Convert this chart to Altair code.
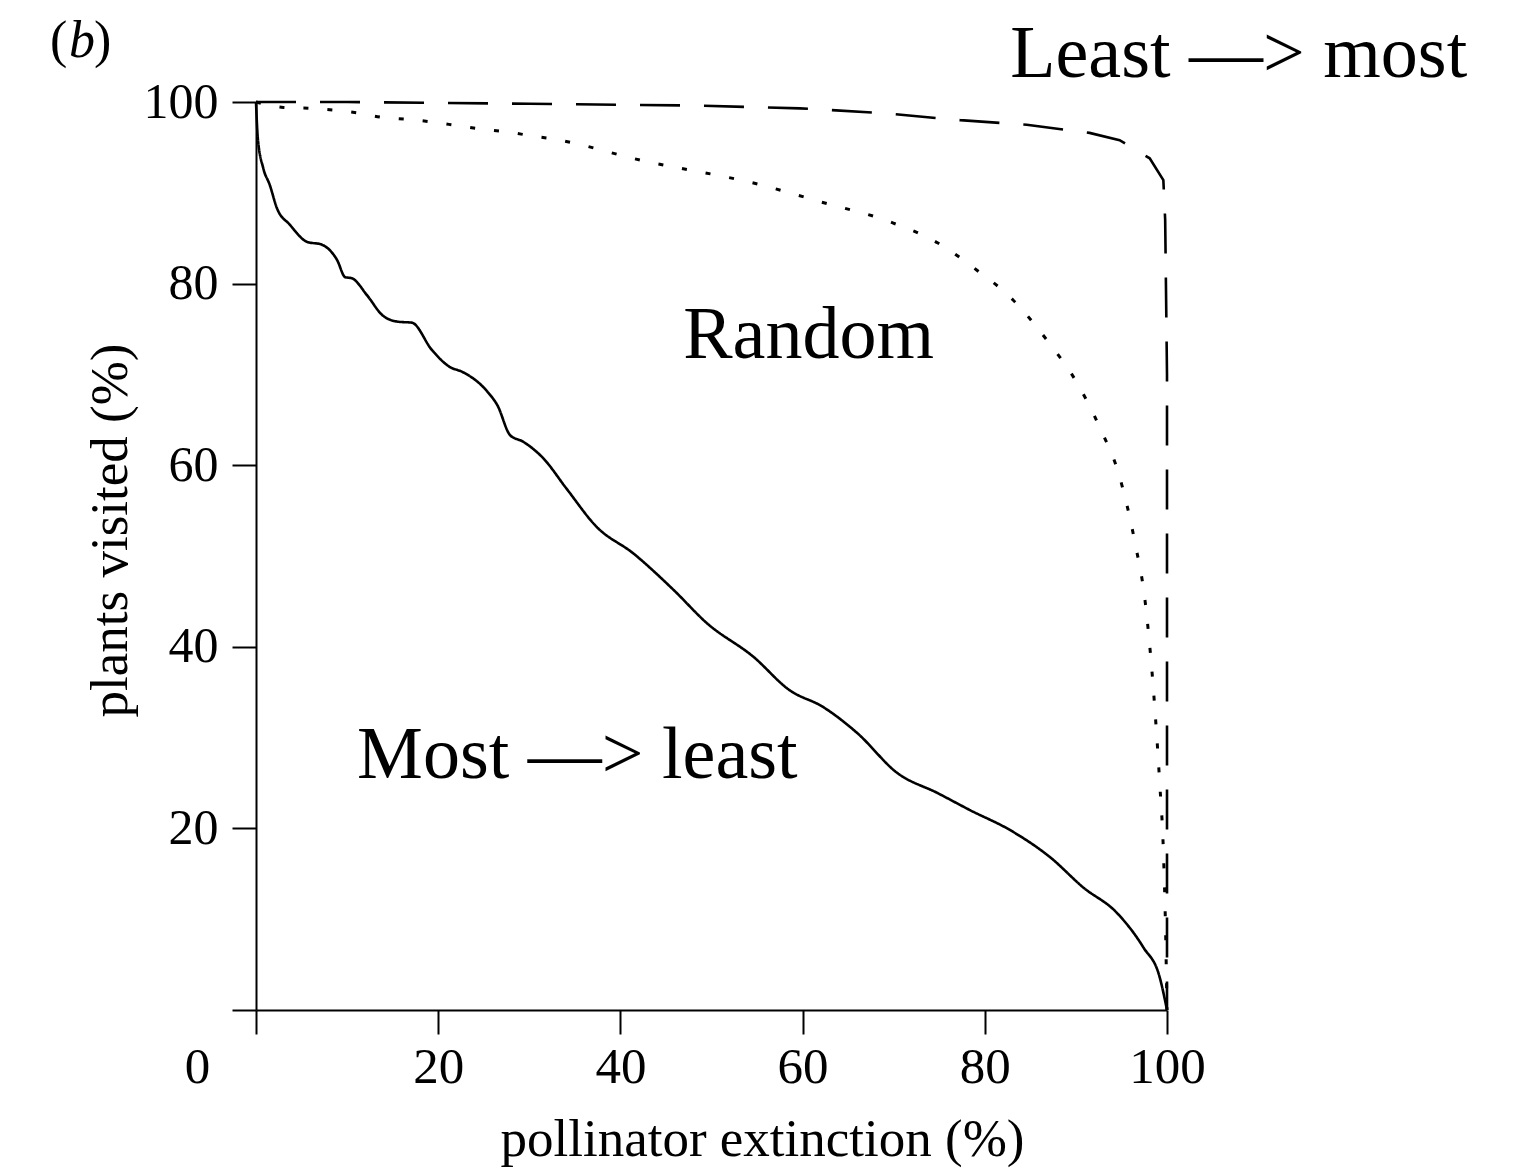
import altair as alt
import pandas as pd

# Most -> least (solid)
solid_x = [0, 0.2, 0.8, 1.5, 2.3, 3.7, 5.6, 7.2, 8.9, 9.8, 10.5, 12.2, 13.9, 15.6, 17.1,
           19.3, 21.3, 22.6, 25.4, 26.5, 27.9, 29.3, 31.5, 34.1, 37.4, 41.4, 45.8, 49.5,
           54.6, 58.6, 62.2, 66.0, 70.4, 74.8, 78.4, 82.8, 87.2, 90.8, 94.5, 97.4, 99.2, 100]
solid_y = [100, 96, 92.7, 90.9, 88.3, 86.5, 84.6, 84.3, 82.6, 80.7, 80.6, 78.7, 76.5, 75.8, 75.7,
           72.7, 70.8, 70.3, 68.1, 66.6, 63.3, 62.6, 60.8, 57.4, 53.2, 50.3, 46.3, 42.6,
           38.9, 35.2, 33.4, 30.5, 26.1, 23.9, 22.0, 19.8, 16.8, 13.5, 10.7, 6.9, 3.6, 0]

# Random (dotted)
random_x = [0, 3, 5.9, 8.5, 11.1, 13.9, 16.6, 19.3, 22.1, 24.9, 27.6, 30.1, 32.8, 42.2, 55.3,
            62.0, 69.6, 74.8, 79.1, 83.1, 86.8, 90.1, 92.6, 94.8, 96.5, 97.6, 98.7, 99.2,
            99.6, 99.85, 100]
random_y = [100, 99.4, 99.3, 99.1, 98.8, 98.3, 98.1, 97.8, 97.4, 97.0, 96.7, 96.3, 95.9, 93.6, 90.9,
            89.0, 86.8, 84.5, 81.5, 78.2, 73.8, 69.1, 64.2, 58.7, 51.4, 45.0, 32.7, 25.0,
            17.6, 8.5, 0]

# Least -> most (dashed)
least_x = [0, 10, 20, 30, 40, 48.7, 59.7, 68.5, 77.3, 84.6, 91.5, 94.8, 98.1, 99.6, 99.8, 100, 100]
least_y = [100, 100, 99.9, 99.8, 99.7, 99.6, 99.3, 98.8, 98.0, 97.5, 96.6, 95.8, 93.8, 91.4, 87.0, 70.0, 0]

tick_values = [0, 20, 40, 60, 80, 100]

# annotation texts
ann_labels = ["Least \u2014> most", "Random", "Most \u2014> least"]
ann_x = [82.8, 46.9, 11.1]
ann_y = [102.75, 71.8, 25.55]

panel_parts = ["(", "b", ")"]
panel_x = -22.6
panel_y = 104.95

FONT = "Liberation Serif"

xscale = alt.Scale(domain=[0, 100], nice=False, zero=False)
yscale = alt.Scale(domain=[0, 100], nice=False, zero=False)

x_axis = alt.Axis(
    title="pollinator extinction (%)",
    values=tick_values,
    labelOffset={"condition": {"test": "datum.value === 0", "value": -59}, "value": 0},
    labelFlush=False,
    labelOverlap=False,
    tickSize=24,
    labelPadding=8,
    labelFontSize=51,
    titleFontSize=53,
    titleX=506,
    titleY=145,
    titleBaseline="alphabetic",
)
y_axis = alt.Axis(
    title="plants visited (%)",
    values=tick_values,
    labelExpr="datum.value === 0 ? '' : datum.label",
    labelFlush=False,
    labelOverlap=False,
    tickSize=24,
    labelPadding=14,
    titlePadding=6,
    titleY=428,
    labelFontSize=50,
    titleFontSize=53,
)


def enc(chart):
    return chart.encode(
        x=alt.X("x:Q", scale=xscale, axis=x_axis),
        y=alt.Y("y:Q", scale=yscale, axis=y_axis),
    )


def line_layer(xs, ys, dash, interp, width):
    df = pd.DataFrame({"x": xs, "y": ys, "order": list(range(len(xs)))})
    return enc(alt.Chart(df).mark_line(
        color="black", strokeWidth=width, strokeDash=dash, interpolate=interp, clip=False
    )).encode(order="order:Q")


solid = line_layer(solid_x, solid_y, [1, 0], "monotone", 2.6)
random_l = line_layer(random_x, random_y, [5, 19], "monotone", 3)
least = line_layer(least_x, least_y, [40, 24], "linear", 2.6)

ann_df = pd.DataFrame({"label": ann_labels, "x": ann_x, "y": ann_y})
ann = enc(alt.Chart(ann_df).mark_text(
    font=FONT, fontSize=74, color="black", align="left", baseline="alphabetic"
)).encode(text="label:N")

panel_df = pd.DataFrame({"x": [panel_x], "y": [panel_y]})
p_open = enc(alt.Chart(panel_df).mark_text(
    text=panel_parts[0], font=FONT, fontSize=52, color="black", align="left", baseline="alphabetic"
))
p_b = enc(alt.Chart(panel_df).mark_text(
    text=panel_parts[1], font=FONT, fontSize=52, fontStyle="italic", color="black",
    align="left", baseline="alphabetic", dx=19
))
p_close = enc(alt.Chart(panel_df).mark_text(
    text=panel_parts[2], font=FONT, fontSize=52, color="black", align="left", baseline="alphabetic", dx=44
))

chart = alt.layer(solid, random_l, least, ann, p_open, p_b, p_close).properties(
    width=911,
    height=908,
    autosize=alt.AutoSizeParams(type="none"),
    padding={"left": 256, "top": 102, "right": 354, "bottom": 159},
    background="white",
).configure_view(stroke=None).configure_axis(
    grid=False,
    domainColor="black",
    domainWidth=2,
    tickColor="black",
    tickWidth=2,
    labelFont=FONT,
    titleFont=FONT,
    labelColor="black",
    titleColor="black",
    titleFontWeight="normal",
)

chart.save("out.html", embed_options={"renderer": "svg", "actions": False})
